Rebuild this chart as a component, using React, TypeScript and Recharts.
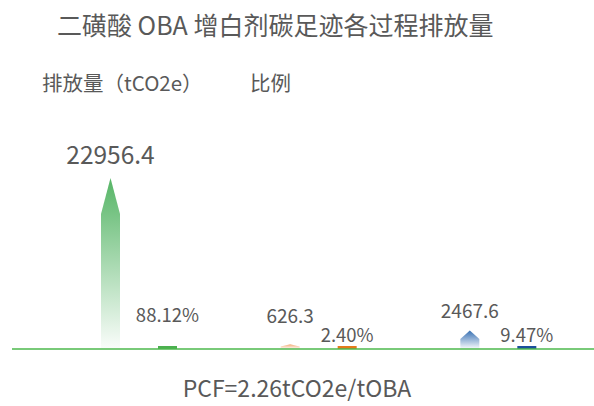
import React from 'react';
import { BarChart, Bar, XAxis, YAxis, LabelList } from 'recharts';

const categories = ['过程一', '过程二', '过程三'];
const emissions = [22956.4, 626.3, 2467.6];
const shares = [88.12, 2.4, 9.47];

const title = '二磺酸 OBA 增白剂碳足迹各过程排放量';
const leftHeader = '排放量（tCO2e）';
const rightHeader = '比例';
const footer = 'PCF=2.26tCO2e/tOBA';

const data = categories.map((c, i) => ({ name: c, emission: emissions[i], share: shares[i] }));

const arrowTop = ['#56b566', '#f3ae7a', '#3a72b4'];
const markerColors = ['#4cb050', '#e47a1c', '#1d4f9c'];
const emissionLabelGap = [24.5, 29.5, 21];
const FONT = '"Noto Sans CJK SC", "Noto Sans", sans-serif';
const TEXT = '#595959';

const ArrowShape = (props: any) => {
  const { x, y, width, height, index } = props;
  if (!height || height <= 0) return null;
  const head = Math.min(height * 0.45, width * 1.9);
  const b = y + height;
  const d = `M${x},${b} L${x},${y + head} L${x + width / 2},${y} L${x + width},${y + head} L${x + width},${b} Z`;
  return <path d={d} fill={`url(#arrowGrad${index})`} />;
};

const MarkerShape = (props: any) => {
  const { x, y, width, height, index } = props;
  const b = y + height;
  return <rect x={x} y={b - 3} width={width} height={3} fill={markerColors[index % markerColors.length]} />;
};

const EmissionLabel = (props: any) => {
  const { x, y, width, value, index } = props;
  const big = index === 0;
  return (
    <text x={x + width / 2} y={y - emissionLabelGap[index % emissionLabelGap.length]} textAnchor="middle" dominantBaseline="central"
      fontSize={big ? 24.5 : 19} fill={TEXT} fontFamily={FONT}>
      {Number(value).toFixed(1)}
    </text>
  );
};

const ShareLabel = (props: any) => {
  const { x, y, width, height, value } = props;
  const b = y + height;
  return (
    <text x={x + width / 2} y={b - (value > 50 ? 35 : 15)} textAnchor="middle" dominantBaseline="central"
      fontSize={18.5} fill={TEXT} fontFamily={FONT}>
      {Number(value).toFixed(2) + '%'}
    </text>
  );
};

export default function App() {
  return (
    <div style={{ position: 'absolute', left: 0, top: 0, width: 594, height: 406, background: '#fff', fontFamily: FONT }}>
      <BarChart width={594} height={406} data={data} margin={{ top: 178, right: 0, bottom: 56, left: 12 }}
        barSize={19} barGap={38}>
        <defs>
          {arrowTop.map((c, i) => (
            <linearGradient key={i} id={`arrowGrad${i}`} x1="0" y1="0" x2="0" y2="1">
              <stop offset="0%" stopColor={c} stopOpacity={1} />
              <stop offset="100%" stopColor={c} stopOpacity={0.03} />
            </linearGradient>
          ))}
        </defs>
        <XAxis dataKey="name" height={1} tick={false} tickLine={false}
          axisLine={{ stroke: '#4cb84c', strokeWidth: 1.5 }} padding={{ left: 37, right: 6 }} />
        <YAxis yAxisId="em" hide domain={[0, 'dataMax']} />
        <YAxis yAxisId="pct" hide domain={[0, 100]} />
        <Bar yAxisId="em" dataKey="emission" shape={<ArrowShape />} isAnimationActive={false}>
          <LabelList dataKey="emission" content={<EmissionLabel />} />
        </Bar>
        <Bar yAxisId="pct" dataKey="share" shape={<MarkerShape />} isAnimationActive={false}>
          <LabelList dataKey="share" content={<ShareLabel />} />
        </Bar>
      </BarChart>
      <div style={{ position: 'absolute', left: 57, top: 7, fontSize: 25, color: TEXT, whiteSpace: 'nowrap', lineHeight: '34px' }}>{title}</div>
      <div style={{ position: 'absolute', left: 42, top: 67, fontSize: 20.5, color: TEXT, whiteSpace: 'nowrap', lineHeight: '30px' }}>{leftHeader}</div>
      <div style={{ position: 'absolute', left: 250, top: 67, fontSize: 20.5, color: TEXT, whiteSpace: 'nowrap', lineHeight: '30px' }}>{rightHeader}</div>
      <div style={{ position: 'absolute', left: 0, width: 594, textAlign: 'center', top: 371, fontSize: 23, color: TEXT, whiteSpace: 'nowrap', lineHeight: '32px' }}>{footer}</div>
    </div>
  );
}
